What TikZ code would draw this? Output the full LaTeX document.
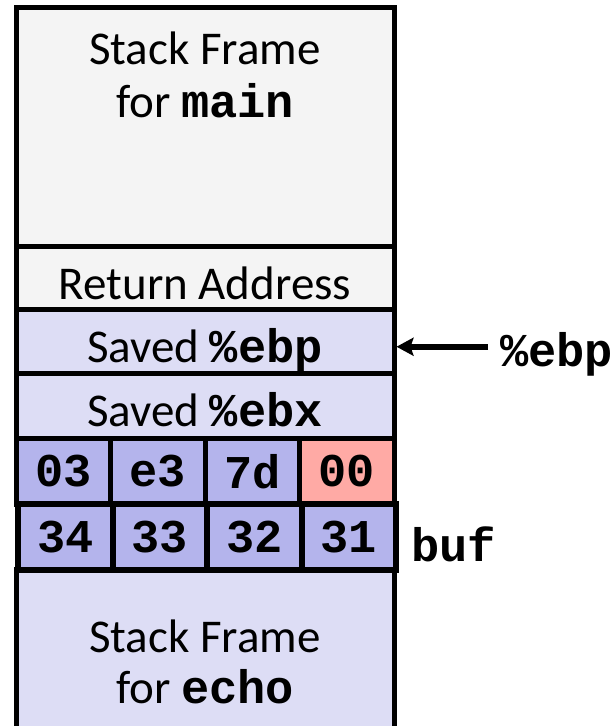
\documentclass[tikz,border=0pt]{standalone}
\usepackage{fontspec}
\setmainfont{Carlito}
\setmonofont{Liberation Mono}
\usetikzlibrary{positioning,arrows.meta}

\definecolor{framegray}{RGB}{244,244,244}
\definecolor{savedblue}{RGB}{221,221,245}
\definecolor{byteblue}{RGB}{180,180,236}
\definecolor{nullred}{RGB}{255,170,165}

\newcommand{\slidesize}{\fontsize{47}{56}\selectfont}
\newcommand{\code}[1]{{\ttfamily\bfseries #1}}

\begin{document}
\begin{tikzpicture}[
  x=1pt, y=1pt,
  sframe/.style={rectangle, draw, line width=5pt, minimum width=378pt, inner sep=0pt,
                 outer sep=0pt, anchor=north west, font=\slidesize, text height=42pt, text depth=0pt},
  sbyte/.style={rectangle, draw, line width=5pt, minimum width=94.5pt, minimum height=65.5pt,
                inner sep=0pt, outer sep=0pt, anchor=north west, fill=byteblue,
                font=\slidesize\ttfamily\bfseries},
  slbl/.style={font=\slidesize, inner sep=0pt, anchor=base},
  sreg/.style={slbl, anchor=base west, font=\slidesize\ttfamily\bfseries},
  sptr/.style={line width=6pt, -{Stealth[length=17pt, width=18pt, inset=3pt]}},
]
  \useasboundingbox (0,0) rectangle (616,726);

  % Frames, top of the stack downwards
  \node[sframe, fill=framegray, minimum height=239.5pt] (fmain) at (16,718.5) {};
  \node[sframe, fill=framegray, minimum height=63pt] (retaddr) at (fmain.south west) {Return Address};
  \node[sframe, fill=savedblue, minimum height=63.5pt] (savebp) at (retaddr.south west) {Saved \code{\%ebp}};
  \node[sframe, fill=savedblue, minimum height=65pt] (savebx) at (savebp.south west) {Saved \code{\%ebx}};
  \node[sframe, fill=savedblue, minimum height=180pt] (fecho) at ([yshift=-131pt]savebx.south west) {};

  % Bytes of the overflowed buffer
  \node[sbyte, minimum height=66pt] (hi1) at (savebx.south west) {03};
  \node[sbyte, minimum height=66pt] (hi2) at (hi1.north east) {e3};
  \node[sbyte, minimum height=66pt] (hi3) at (hi2.north east) {7d};
  \node[sbyte, minimum height=66pt, fill=nullred] (hi4) at (hi3.north east) {00};

  \node[sbyte, line width=6pt] (lo1) at ([xshift=2pt]hi1.south west) {34};
  \node[sbyte, line width=6pt] (lo2) at (lo1.north east) {33};
  \node[sbyte, line width=6pt] (lo3) at (lo2.north east) {32};
  \node[sbyte, line width=6pt] (lo4) at (lo3.north east) {31};

  % Frame labels
  \node[slbl] (mainA) at ([yshift=-57.5pt]fmain.north) {Stack Frame};
  \node[slbl] (mainB) at ([yshift=-53pt]mainA.base) {for \code{main}};
  \node[slbl] (echoA) at ([yshift=-83.5pt]fecho.north) {Stack Frame};
  \node[slbl] (echoB) at ([yshift=-50pt]echoA.base) {for \code{echo}};

  % Register and buffer names
  \node[sreg, inner xsep=12pt] (regebp) at ([xshift=94pt,yshift=-25pt]savebp.east) {\%ebp};
  \node[sreg] (bufname) at ([xshift=15pt,yshift=8pt]lo4.south east) {buf};
  \coordinate (ebprow) at ([xshift=2.5pt,yshift=-5pt]savebp.east);

  \draw[sptr] (regebp.west |- ebprow) -- (ebprow);
\end{tikzpicture}
\end{document}
